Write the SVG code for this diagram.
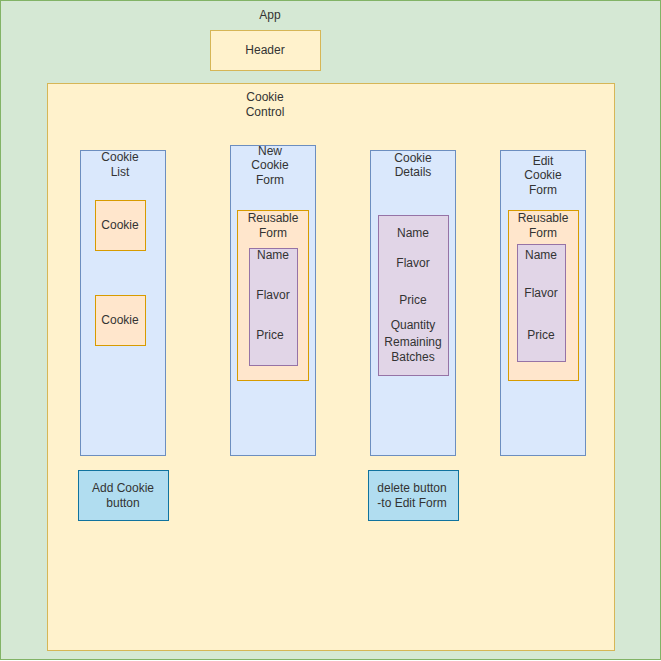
<svg xmlns="http://www.w3.org/2000/svg" width="661" height="661" viewBox="0 0 661 661">
<style>
text{font-family:"Liberation Sans",Arial,sans-serif;font-size:12px;fill:#333;text-anchor:middle;dominant-baseline:central}
.green{fill:#d5e8d4;stroke:#82b366}
.yellow{fill:#fff2cc;stroke:#d6b656}
.blue{fill:#dae8fc;stroke:#6c8ebf}
.orange{fill:#ffe6cc;stroke:#d79b00}
.purple{fill:#e1d5e7;stroke:#9673a6}
.btn{fill:#b1ddf0;stroke:#10739e}
</style>
<g id="app">
<rect class="green" x="0.5" y="0.5" width="660" height="659"/>
<text x="270" y="15">App</text>
</g>
<g id="header">
<rect class="yellow" x="210.5" y="30.5" width="110" height="40"/>
<text x="265" y="50">Header</text>
</g>
<g id="cookie-control">
<rect class="yellow" x="47.5" y="83.5" width="567" height="567"/>
<text x="265" y="97">Cookie</text>
<text x="265" y="112">Control</text>
</g>
<g id="cookie-list">
<rect class="blue" x="80.5" y="150.5" width="85" height="305"/>
<text x="120" y="157">Cookie</text>
<text x="120" y="172">List</text>
</g>
<g id="cookie-1">
<rect class="orange" x="95.5" y="200.5" width="50" height="50"/>
<text x="120" y="225">Cookie</text>
</g>
<g id="cookie-2">
<rect class="orange" x="95.5" y="295.5" width="50" height="50"/>
<text x="120" y="320">Cookie</text>
</g>
<g id="new-cookie-form">
<rect class="blue" x="230.5" y="145.5" width="85" height="310"/>
<text x="270" y="151">New</text>
<text x="270" y="165">Cookie</text>
<text x="270" y="180">Form</text>
</g>
<g id="reusable-form-1">
<rect class="orange" x="237.5" y="210.5" width="71" height="170"/>
<text x="273" y="218">Reusable</text>
<text x="273" y="233">Form</text>
</g>
<g id="fields-1">
<rect class="purple" x="249.5" y="248.5" width="48" height="117"/>
<text x="273" y="255">Name</text>
<text x="273" y="295">Flavor</text>
<text x="270" y="335">Price</text>
</g>
<g id="cookie-details">
<rect class="blue" x="370.5" y="150.5" width="85" height="305"/>
<text x="413" y="158">Cookie</text>
<text x="413" y="172">Details</text>
</g>
<g id="details-fields">
<rect class="purple" x="378.5" y="215.5" width="70" height="160"/>
<text x="413" y="233">Name</text>
<text x="413" y="263">Flavor</text>
<text x="413" y="300">Price</text>
<text x="413" y="325">Quantity</text>
<text x="413" y="342">Remaining</text>
<text x="413" y="357">Batches</text>
</g>
<g id="edit-cookie-form">
<rect class="blue" x="500.5" y="150.5" width="85" height="305"/>
<text x="543" y="161">Edit</text>
<text x="543" y="175">Cookie</text>
<text x="543" y="190">Form</text>
</g>
<g id="reusable-form-2">
<rect class="orange" x="508.5" y="210.5" width="70" height="170"/>
<text x="543" y="218">Reusable</text>
<text x="543" y="233">Form</text>
</g>
<g id="fields-2">
<rect class="purple" x="517.5" y="244.5" width="48" height="117"/>
<text x="541" y="255">Name</text>
<text x="541" y="293">Flavor</text>
<text x="541" y="335">Price</text>
</g>
<g id="add-cookie-button">
<rect class="btn" x="78.5" y="470.5" width="90" height="50"/>
<text x="123" y="488">Add Cookie</text>
<text x="123" y="503">button</text>
</g>
<g id="delete-button">
<rect class="btn" x="368.5" y="470.5" width="90" height="50"/>
<text x="412" y="488">delete button</text>
<text x="412" y="503">-to Edit Form</text>
</g>
<g id="connectors"></g>
</svg>
